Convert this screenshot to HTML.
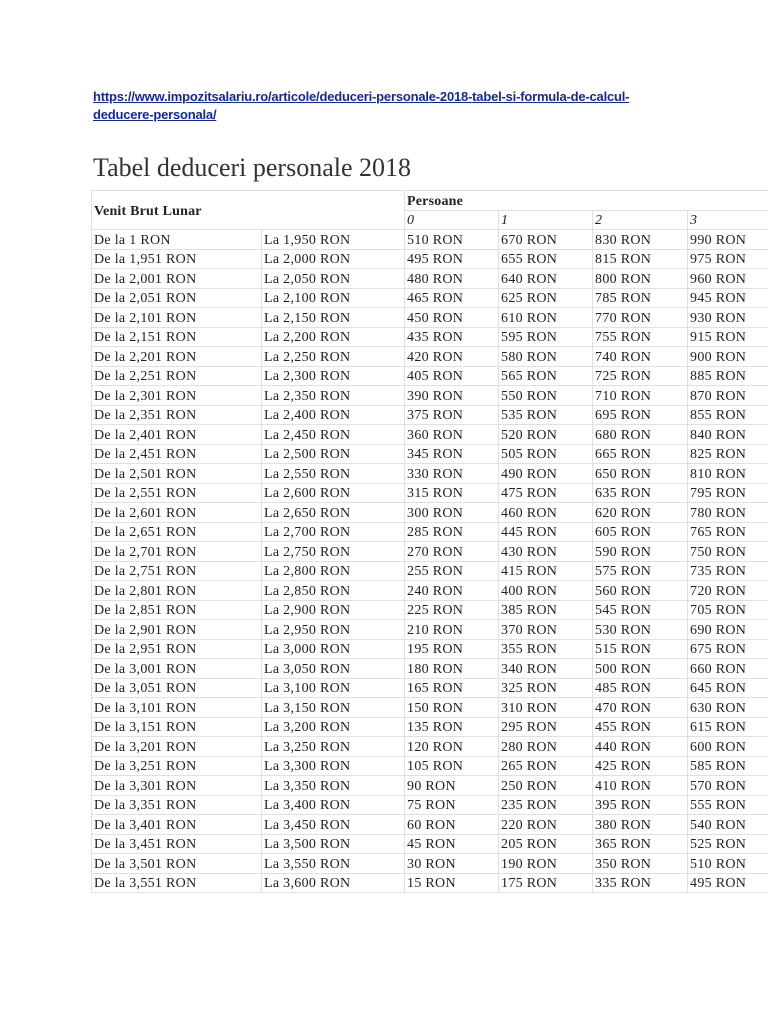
<!DOCTYPE html>
<html><head><meta charset="utf-8">
<style>
html,body{margin:0;padding:0;background:#fff;width:768px;height:1024px;overflow:hidden;position:relative;font-family:"Liberation Serif",serif;}
.link{position:absolute;left:93px;top:88px;font-family:"Liberation Sans",sans-serif;font-size:13px;line-height:18px;text-decoration:underline;letter-spacing:-0.2px;font-weight:bold;color:#102a9a}
h1{position:absolute;left:93px;top:153px;margin:0;font-weight:normal;font-size:26px;color:#333;font-family:"Liberation Serif",serif;}
table{position:absolute;left:91px;top:190px;border-collapse:collapse;table-layout:fixed;width:800px;font-size:14px;color:#222;letter-spacing:0.3px;}
tr{height:19.5px;}
td{border:1px solid #e0e0e0;height:19.5px;padding:3px 0 0 2px;box-sizing:border-box;white-space:nowrap;overflow:hidden;line-height:14px;}
.h td{font-weight:bold;letter-spacing:0.2px;}
i{font-style:italic;}
</style></head><body>
<div class="link">https://www.impozitsalariu.ro/articole/deduceri-personale-2018-tabel-si-formula-de-calcul-<br>deducere-personala/</div>
<h1>Tabel deduceri personale 2018</h1>
<table>
<colgroup><col style="width:170px"><col style="width:143px"><col style="width:94px"><col style="width:94px"><col style="width:95px"><col style="width:204px"></colgroup>
<tr class="h"><td colspan="2" rowspan="2">Venit Brut Lunar</td><td colspan="4">Persoane</td></tr>
<tr><td><i>0</i></td><td><i>1</i></td><td><i>2</i></td><td><i>3</i></td></tr>
<tr><td>De la 1 RON</td><td>La 1,950 RON</td><td>510 RON</td><td>670 RON</td><td>830 RON</td><td>990 RON</td></tr>
<tr><td>De la 1,951 RON</td><td>La 2,000 RON</td><td>495 RON</td><td>655 RON</td><td>815 RON</td><td>975 RON</td></tr>
<tr><td>De la 2,001 RON</td><td>La 2,050 RON</td><td>480 RON</td><td>640 RON</td><td>800 RON</td><td>960 RON</td></tr>
<tr><td>De la 2,051 RON</td><td>La 2,100 RON</td><td>465 RON</td><td>625 RON</td><td>785 RON</td><td>945 RON</td></tr>
<tr><td>De la 2,101 RON</td><td>La 2,150 RON</td><td>450 RON</td><td>610 RON</td><td>770 RON</td><td>930 RON</td></tr>
<tr><td>De la 2,151 RON</td><td>La 2,200 RON</td><td>435 RON</td><td>595 RON</td><td>755 RON</td><td>915 RON</td></tr>
<tr><td>De la 2,201 RON</td><td>La 2,250 RON</td><td>420 RON</td><td>580 RON</td><td>740 RON</td><td>900 RON</td></tr>
<tr><td>De la 2,251 RON</td><td>La 2,300 RON</td><td>405 RON</td><td>565 RON</td><td>725 RON</td><td>885 RON</td></tr>
<tr><td>De la 2,301 RON</td><td>La 2,350 RON</td><td>390 RON</td><td>550 RON</td><td>710 RON</td><td>870 RON</td></tr>
<tr><td>De la 2,351 RON</td><td>La 2,400 RON</td><td>375 RON</td><td>535 RON</td><td>695 RON</td><td>855 RON</td></tr>
<tr><td>De la 2,401 RON</td><td>La 2,450 RON</td><td>360 RON</td><td>520 RON</td><td>680 RON</td><td>840 RON</td></tr>
<tr><td>De la 2,451 RON</td><td>La 2,500 RON</td><td>345 RON</td><td>505 RON</td><td>665 RON</td><td>825 RON</td></tr>
<tr><td>De la 2,501 RON</td><td>La 2,550 RON</td><td>330 RON</td><td>490 RON</td><td>650 RON</td><td>810 RON</td></tr>
<tr><td>De la 2,551 RON</td><td>La 2,600 RON</td><td>315 RON</td><td>475 RON</td><td>635 RON</td><td>795 RON</td></tr>
<tr><td>De la 2,601 RON</td><td>La 2,650 RON</td><td>300 RON</td><td>460 RON</td><td>620 RON</td><td>780 RON</td></tr>
<tr><td>De la 2,651 RON</td><td>La 2,700 RON</td><td>285 RON</td><td>445 RON</td><td>605 RON</td><td>765 RON</td></tr>
<tr><td>De la 2,701 RON</td><td>La 2,750 RON</td><td>270 RON</td><td>430 RON</td><td>590 RON</td><td>750 RON</td></tr>
<tr><td>De la 2,751 RON</td><td>La 2,800 RON</td><td>255 RON</td><td>415 RON</td><td>575 RON</td><td>735 RON</td></tr>
<tr><td>De la 2,801 RON</td><td>La 2,850 RON</td><td>240 RON</td><td>400 RON</td><td>560 RON</td><td>720 RON</td></tr>
<tr><td>De la 2,851 RON</td><td>La 2,900 RON</td><td>225 RON</td><td>385 RON</td><td>545 RON</td><td>705 RON</td></tr>
<tr><td>De la 2,901 RON</td><td>La 2,950 RON</td><td>210 RON</td><td>370 RON</td><td>530 RON</td><td>690 RON</td></tr>
<tr><td>De la 2,951 RON</td><td>La 3,000 RON</td><td>195 RON</td><td>355 RON</td><td>515 RON</td><td>675 RON</td></tr>
<tr><td>De la 3,001 RON</td><td>La 3,050 RON</td><td>180 RON</td><td>340 RON</td><td>500 RON</td><td>660 RON</td></tr>
<tr><td>De la 3,051 RON</td><td>La 3,100 RON</td><td>165 RON</td><td>325 RON</td><td>485 RON</td><td>645 RON</td></tr>
<tr><td>De la 3,101 RON</td><td>La 3,150 RON</td><td>150 RON</td><td>310 RON</td><td>470 RON</td><td>630 RON</td></tr>
<tr><td>De la 3,151 RON</td><td>La 3,200 RON</td><td>135 RON</td><td>295 RON</td><td>455 RON</td><td>615 RON</td></tr>
<tr><td>De la 3,201 RON</td><td>La 3,250 RON</td><td>120 RON</td><td>280 RON</td><td>440 RON</td><td>600 RON</td></tr>
<tr><td>De la 3,251 RON</td><td>La 3,300 RON</td><td>105 RON</td><td>265 RON</td><td>425 RON</td><td>585 RON</td></tr>
<tr><td>De la 3,301 RON</td><td>La 3,350 RON</td><td>90 RON</td><td>250 RON</td><td>410 RON</td><td>570 RON</td></tr>
<tr><td>De la 3,351 RON</td><td>La 3,400 RON</td><td>75 RON</td><td>235 RON</td><td>395 RON</td><td>555 RON</td></tr>
<tr><td>De la 3,401 RON</td><td>La 3,450 RON</td><td>60 RON</td><td>220 RON</td><td>380 RON</td><td>540 RON</td></tr>
<tr><td>De la 3,451 RON</td><td>La 3,500 RON</td><td>45 RON</td><td>205 RON</td><td>365 RON</td><td>525 RON</td></tr>
<tr><td>De la 3,501 RON</td><td>La 3,550 RON</td><td>30 RON</td><td>190 RON</td><td>350 RON</td><td>510 RON</td></tr>
<tr><td>De la 3,551 RON</td><td>La 3,600 RON</td><td>15 RON</td><td>175 RON</td><td>335 RON</td><td>495 RON</td></tr>
</table>
</body></html>
